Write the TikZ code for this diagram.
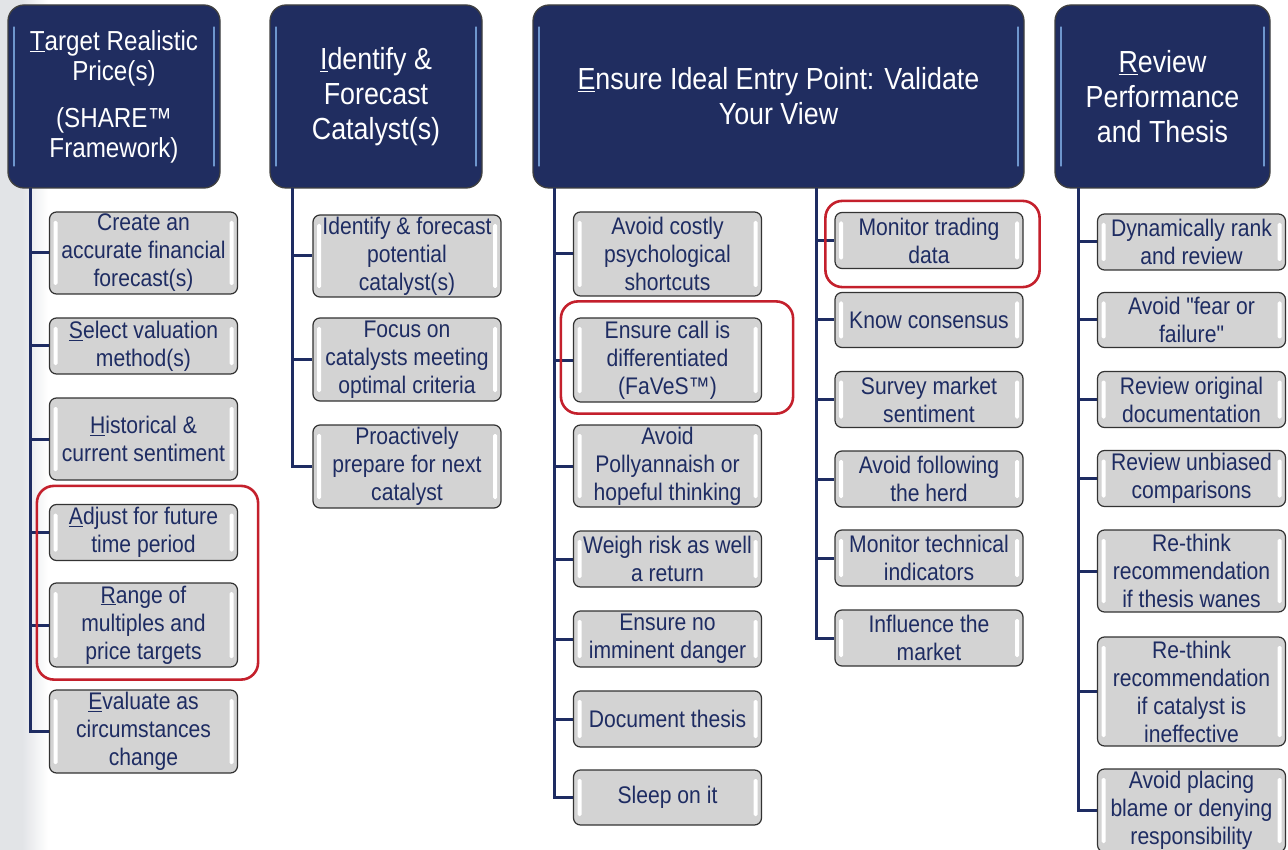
\documentclass[tikz,border=0pt]{standalone}
\usepackage{fontspec}
\setmainfont[FakeStretch=0.88, Ligatures=TeXOff]{Liberation Sans}
\usetikzlibrary{calc}

\definecolor{hdrblue}{RGB}{32,45,96}
\definecolor{hdrglint}{RGB}{110,150,205}
\definecolor{navy}{RGB}{30,44,98}
\definecolor{itemgray}{RGB}{211,211,211}
\definecolor{hilite}{RGB}{196,32,44}
\definecolor{sidegray}{RGB}{226,228,231}

\tikzset{
  hdr/.style={draw=black!75, line width=1.3pt, fill=hdrblue, rounded corners=16pt,
    text=white, align=center, inner sep=0pt, minimum height=183pt,
    path picture={
      \draw[hdrglint, line width=1.3pt, line cap=round]
        ([shift={(6pt,-22pt)}]path picture bounding box.north west) --
        ([shift={(6pt,22pt)}]path picture bounding box.south west);
      \draw[hdrglint, line width=1.3pt, line cap=round]
        ([shift={(-6pt,-22pt)}]path picture bounding box.north east) --
        ([shift={(-6pt,22pt)}]path picture bounding box.south east);
    }},
  item/.style={draw=black!80, line width=1.2pt, fill=itemgray, rounded corners=7pt,
    minimum width=188pt, inner sep=0pt, text=navy, align=center,
    font=\fontsize{24}{28}\selectfont,
    path picture={
      \fill[white, rounded corners=1.5pt]
        ([shift={(4pt,-9pt)}]path picture bounding box.north west) rectangle
        ([shift={(8pt,9pt)}]path picture bounding box.south west);
      \fill[white, rounded corners=1.5pt]
        ([shift={(-8pt,-9pt)}]path picture bounding box.north east) rectangle
        ([shift={(-4pt,9pt)}]path picture bounding box.south east);
    }},
  trunk/.style={draw=navy, line width=3pt},
  callout/.style={draw=hilite, line width=2.6pt, rounded corners=17pt}
}

\begin{document}
\begin{tikzpicture}[x=1pt,y=-1pt]
\useasboundingbox (0,0) rectangle (1288,850);
\fill[white] (0,0) rectangle (1288,850);

% soft grey band along the left edge
\fill[sidegray] (0,0) rectangle (22,850);
\shade[left color=sidegray, right color=white] (22,0) rectangle (48,850);

% ---------- column headers ----------
\node[hdr, minimum width=212pt, font=\fontsize{27.5}{30}\selectfont] (hT) at (114,96.5)
  {\underline{T}arget Realistic\\Price(s)\\[17pt](SHARE™\\Framework)};
\node[hdr, minimum width=212pt, font=\fontsize{30.5}{35}\selectfont] (hI) at (376,96.5)
  {\underline{I}dentify \&\\Forecast\\Catalyst(s)};
\node[hdr, minimum width=491pt, font=\fontsize{30.5}{35}\selectfont] (hE) at (778.5,96.5)
  {\underline{E}nsure Ideal Entry Point: Validate\\Your View};
\node[hdr, minimum width=215pt, font=\fontsize{30.5}{35}\selectfont] (hR) at (1162.5,96.5)
  {\underline{R}eview\\Performance\\and Thesis};

% ---------- T column ----------
\node[item, minimum height=82pt] (t1) at (143.5,253)   {Create an\\accurate financial\\forecast(s)};
\node[item, minimum height=56pt] (t2) at (143.5,346)   {\underline{S}elect valuation\\method(s)};
\node[item, minimum height=82pt] (t3) at (143.5,439)   {\underline{H}istorical \&\\current sentiment};
\node[item, minimum height=56pt] (t4) at (143.5,532.5) {\underline{A}djust for future\\time period};
\node[item, minimum height=84pt] (t5) at (143.5,625)   {\underline{R}ange of\\multiples and\\price targets};
\node[item, minimum height=83pt] (t6) at (143.5,731.5) {\underline{E}valuate as\\circumstances\\change};

% ---------- I column ----------
\node[item, minimum height=82pt] (i1) at (407,256)   {Identify \& forecast\\potential\\catalyst(s)};
\node[item, minimum height=83pt] (i2) at (407,359.5) {Focus on\\catalysts meeting\\optimal criteria};
\node[item, minimum height=83pt] (i3) at (407,466.5) {Proactively\\prepare for next\\catalyst};

% ---------- E column, left branch ----------
\node[item, minimum height=84pt] (e1) at (667.5,254)   {Avoid costly\\psychological\\shortcuts};
\node[item, minimum height=84pt] (e2) at (667.5,360)   {Ensure call is\\differentiated\\(FaVeS™)};
\node[item, minimum height=82pt] (e3) at (667.5,466)   {Avoid\\Pollyannaish or\\hopeful thinking};
\node[item, minimum height=56pt] (e4) at (667.5,559)   {Weigh risk as well\\a return};
\node[item, minimum height=56pt] (e5) at (667.5,639)   {Ensure no\\imminent danger};
\node[item, minimum height=56pt] (e6) at (667.5,719)   {Document thesis};
\node[item, minimum height=55pt] (e7) at (667.5,797.5) {Sleep on it};

% ---------- E column, right branch ----------
\node[item, minimum height=56pt] (m1) at (929,240.5) {Monitor trading\\data};
\node[item, minimum height=55pt] (m2) at (929,320)   {Know consensus};
\node[item, minimum height=56pt] (m3) at (929,399.5) {Survey market\\sentiment};
\node[item, minimum height=56pt] (m4) at (929,479)   {Avoid following\\the herd};
\node[item, minimum height=56pt] (m5) at (929,558)   {Monitor technical\\indicators};
\node[item, minimum height=56pt] (m6) at (929,638)   {Influence the\\market};

% ---------- R column ----------
\node[item, minimum height=56pt]  (r1) at (1191.5,242)   {Dynamically rank\\and review};
\node[item, minimum height=55pt]  (r2) at (1191.5,320)   {Avoid "fear or\\failure"};
\node[item, minimum height=56pt]  (r3) at (1191.5,399.5) {Review original\\documentation};
\node[item, minimum height=56pt]  (r4) at (1191.5,478.5) {Review unbiased\\comparisons};
\node[item, minimum height=82pt]  (r5) at (1191.5,571)   {Re-think\\recommendation\\if thesis wanes};
\node[item, minimum height=109pt] (r6) at (1191.5,691.5) {Re-think\\recommendation\\if catalyst is\\ineffective};
\node[item, minimum height=83pt]  (r7) at (1191.5,810.5) {Avoid placing\\blame or denying\\responsibility};

% ---------- trunk lines from each header ----------
\coordinate (tT) at (30,188);
\coordinate (tI) at (292,188);
\coordinate (tE1) at (554,188);
\coordinate (tE2) at (816,188);
\coordinate (tR) at (1078,188);

\draw[trunk] (tT) |- (t6.west);
\foreach \n in {t1,t2,t3,t4,t5} \draw[trunk] (tT |- \n.west) -- (\n.west);

\draw[trunk] (tI) |- (i3.west);
\foreach \n in {i1,i2} \draw[trunk] (tI |- \n.west) -- (\n.west);

\draw[trunk] (tE1) |- (e7.west);
\foreach \n in {e1,e2,e3,e4,e5,e6} \draw[trunk] (tE1 |- \n.west) -- (\n.west);

\draw[trunk] (tE2) |- (m6.west);
\foreach \n in {m1,m2,m3,m4,m5} \draw[trunk] (tE2 |- \n.west) -- (\n.west);

\draw[trunk] (tR) |- (r7.west);
\foreach \n in {r1,r2,r3,r4,r5,r6} \draw[trunk] (tR |- \n.west) -- (\n.west);

% ---------- red call-outs ----------
\draw[callout] ($(t4.north west)+(-12,-18)$) rectangle ($(t5.south east)+(20,12)$);
\draw[callout] ($(e2.north west)+(-12,-16)$) rectangle ($(e2.south east)+(31,11)$);
\draw[callout] ($(m1.north west)+(-9,-11)$) rectangle ($(m1.south east)+(16,18)$);
\end{tikzpicture}
\end{document}
